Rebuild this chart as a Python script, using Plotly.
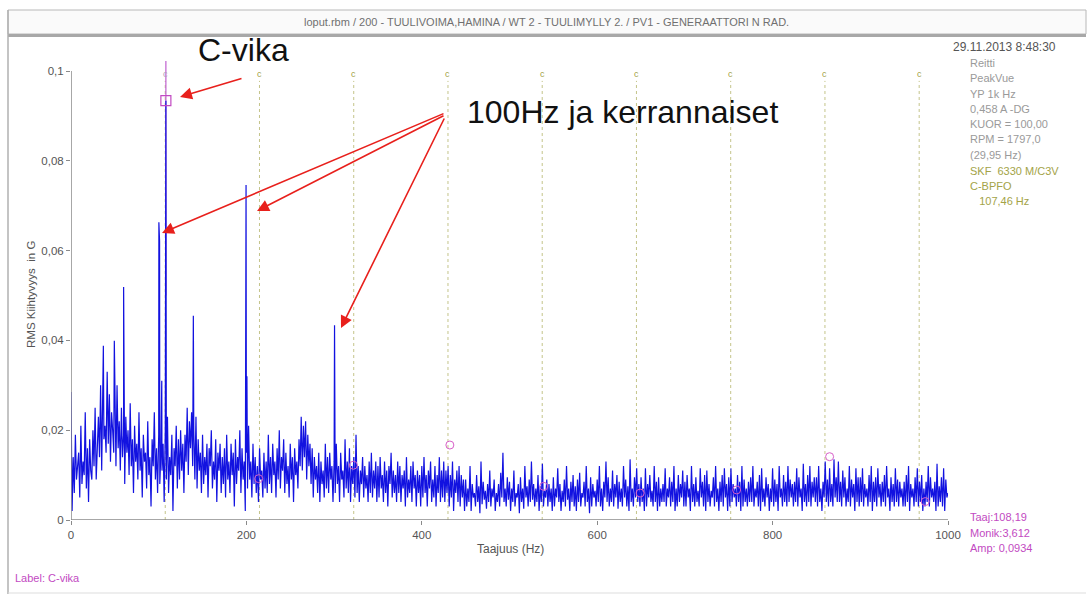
import numpy as np
import plotly.graph_objects as go

# ---------------------------------------------------------------------------
# Spectrum data (PeakVue, RMS acceleration in G)
# ---------------------------------------------------------------------------
FREQ_STEP = 1.25  # Hz between spectrum lines
# Noise floor amplitudes in units of 1e-4 G, 20 lines per 25 Hz block
noise_e4 = [
    285, 20, 140, 60, 190, 90, 120, 150, 50, 210, 80, 130, 100, 240, 70, 160, 40, 180, 110, 90,       # 0
    200, 120, 250, 90, 160, 230, 140, 300, 110, 260, 180, 210, 150, 330, 170, 280, 130, 240, 200, 150,  # 25
    270, 120, 300, 160, 220, 110, 250, 140, 190, 80, 230, 150, 200, 100, 260, 120, 180, 60, 210, 130,   # 50
    170, 90, 240, 110, 160, 50, 190, 130, 150, 70, 220, 100, 140, 30, 180, 120, 240, 90, 160, 60,       # 75
    190, 80, 150, 110, 170, 40, 200, 90, 230, 60, 140, 100, 190, 20, 160, 120, 210, 70, 180, 90,        # 100
    200, 110, 170, 60, 190, 130, 250, 100, 220, 160, 240, 120, 200, 90, 230, 70, 180, 110, 150, 60,     # 125
    190, 80, 140, 100, 170, 50, 160, 120, 200, 70, 130, 90, 180, 40, 150, 110, 170, 60, 140, 80,        # 150
    160, 50, 190, 90, 130, 60, 170, 100, 150, 30, 180, 80, 140, 110, 200, 60, 160, 90, 130, 20,         # 175
    150, 70, 210, 90, 130, 50, 170, 80, 140, 60, 120, 40, 160, 90, 110, 50, 150, 70, 130, 60,           # 200
    190, 80, 140, 60, 170, 100, 130, 50, 160, 90, 200, 70, 140, 110, 180, 60, 150, 80, 120, 50,         # 225
    170, 90, 140, 40, 160, 100, 130, 70, 180, 120, 230, 110, 210, 140, 220, 90, 190, 120, 170, 80,      # 250
    160, 50, 140, 90, 120, 60, 150, 40, 130, 80, 110, 50, 170, 70, 140, 60, 150, 90, 120, 40,           # 275
    130, 60, 170, 80, 120, 40, 150, 90, 110, 50, 180, 70, 130, 60, 160, 40, 120, 80, 140, 50,           # 300
    190, 60, 120, 40, 110, 80, 140, 50, 120, 70, 100, 40, 130, 60, 150, 50, 110, 70, 130, 40,           # 325
    120, 50, 140, 70, 100, 40, 130, 60, 110, 30, 120, 80, 150, 50, 110, 60, 100, 40, 130, 60,           # 350
    120, 40, 100, 70, 110, 30, 140, 50, 90, 60, 120, 40, 130, 70, 100, 30, 110, 60, 100, 30,            # 375
    120, 50, 140, 60, 100, 30, 110, 70, 130, 40, 90, 50, 120, 30, 100, 60, 140, 40, 110, 50,            # 400
    130, 40, 110, 60, 120, 30, 100, 50, 130, 20, 90, 60, 110, 40, 120, 30, 100, 50, 90, 20,             # 425
    90, 30, 70, 40, 120, 20, 80, 50, 60, 30, 100, 40, 75, 15, 130, 35, 85, 45, 65, 25,                  # 450
    80, 40, 110, 30, 70, 50, 90, 20, 60, 40, 80, 30, 105, 50, 150, 40, 70, 30, 95, 45,                  # 475
    85, 20, 70, 40, 110, 30, 60, 50, 80, 15, 95, 40, 70, 25, 120, 50, 75, 30, 90, 40,                   # 500
    130, 45, 80, 30, 70, 40, 100, 20, 75, 40, 125, 30, 65, 50, 90, 30, 80, 40, 70, 20,                  # 525
    95, 30, 70, 50, 115, 40, 80, 20, 65, 40, 90, 30, 120, 45, 70, 20, 85, 40, 100, 30,                  # 550
    75, 20, 90, 40, 105, 30, 60, 50, 85, 30, 120, 40, 70, 15, 95, 30, 80, 50, 65, 30,                   # 575
    90, 40, 120, 30, 70, 20, 85, 50, 130, 40, 95, 30, 70, 40, 110, 30, 80, 50, 100, 25,                 # 600
    85, 40, 70, 30, 120, 50, 90, 30, 75, 20, 135, 40, 70, 30, 95, 50, 115, 40, 80, 30,                  # 625
    95, 40, 70, 20, 115, 30, 80, 50, 100, 40, 65, 30, 120, 40, 85, 20, 95, 30, 70, 40,                  # 650
    80, 40, 115, 30, 70, 50, 95, 30, 85, 40, 120, 20, 70, 30, 100, 40, 80, 50, 110, 30,                 # 675
    85, 30, 100, 50, 70, 20, 120, 40, 80, 30, 95, 40, 65, 30, 115, 50, 85, 30, 100, 20,                 # 700
    110, 40, 80, 30, 65, 50, 95, 30, 120, 40, 70, 20, 85, 40, 100, 30, 115, 50, 80, 20,                 # 725
    95, 30, 115, 40, 80, 50, 70, 30, 100, 40, 85, 20, 120, 30, 90, 40, 70, 30, 85, 40,                  # 750
    95, 40, 120, 30, 70, 50, 85, 30, 100, 20, 115, 40, 70, 30, 95, 50, 80, 20, 70, 40,                  # 775
    115, 30, 90, 40, 80, 20, 120, 50, 70, 30, 100, 40, 85, 30, 120, 40, 90, 50, 80, 30,                 # 800
    85, 40, 115, 30, 95, 50, 70, 20, 125, 40, 80, 30, 100, 40, 120, 30, 85, 50, 95, 40,                 # 825
    95, 30, 120, 40, 70, 20, 85, 50, 130, 40, 90, 30, 115, 40, 80, 30, 135, 50, 95, 40,                 # 850
    130, 40, 85, 30, 110, 50, 95, 30, 70, 40, 120, 30, 90, 50, 80, 20, 115, 40, 95, 30,                 # 875
    95, 40, 115, 30, 80, 50, 70, 30, 100, 40, 120, 20, 85, 40, 95, 30, 115, 50, 80, 30,                 # 900
    85, 40, 100, 30, 120, 50, 70, 20, 95, 40, 80, 30, 115, 40, 90, 30, 85, 50, 70, 30,                  # 925
    85, 30, 100, 40, 120, 20, 80, 50, 70, 30, 95, 40, 115, 30, 85, 40, 100, 20, 70, 30,                 # 950
    85, 40, 120, 30, 95, 50, 70, 40, 85, 20, 125, 30, 75, 40, 95, 30, 115, 20, 90, 50,                  # 975
    60,
]

# Discrete peaks (Hz, 1e-4 G)
peak_freq = [36.9, 49.4, 60.0, 100.2, 101.0, 103.5, 139.5, 199.6, 200.6, 300.5]
peak_amp_e4 = [388, 399, 519, 663, 620, 310, 455, 746, 320, 434]

# Cursor reading
cursor_freq = 108.19
cursor_amp = 0.0934

# Bearing fault frequency (SKF 6330 M/C3V, outer race) and its harmonic orders
bpfo = 107.46
bpfo_orders = [1, 2, 3, 4, 5, 6, 7, 8, 9]
# Harmonic cursor markers found on the spectrum
harm_freq = [214.0, 322.0, 432.0, 539.0, 649.0, 759.0, 865.0, 974.0]
harm_amp = [0.0092, 0.0122, 0.0167, 0.0075, 0.0060, 0.0067, 0.0141, 0.0041]

x_ticks = [0, 200, 400, 600, 800, 1000]
y_ticks = [0, 0.02, 0.04, 0.06, 0.08, 0.1]
y_tick_text = ["0", "0,02", "0,04", "0,06", "0,08", "0,1"]

info_lines = ["Reitti", "PeakVue", "YP 1k Hz", "0,458 A -DG", "KUOR = 100,00",
              "RPM = 1797,0", "(29,95 Hz)"]
bearing_lines = ["SKF  6330 M/C3V", "C-BPFO", "   107,46 Hz"]
cursor_lines = ["Taaj:108,19", "Monik:3,612", "Amp: 0,0934"]

# ---------------------------------------------------------------------------
# Build spectrum
# ---------------------------------------------------------------------------
grid_f = np.arange(len(noise_e4)) * FREQ_STEP
all_f = np.concatenate([grid_f, peak_freq, [cursor_freq]])
all_a = np.concatenate([np.array(noise_e4) * 1e-4, np.array(peak_amp_e4) * 1e-4, [cursor_amp]])
order = np.argsort(all_f, kind="stable")
spec_f, spec_a = all_f[order], all_a[order]

# ---------------------------------------------------------------------------
# Page geometry (pixels) and helpers to paper coordinates
# ---------------------------------------------------------------------------
W, H = 1088, 595
PL, PT, PW, PH = 71, 60, 877, 460
Y_TOP = 0.10245


def px(x):
    return (x - PL) / PW


def py(y):
    return (PT + PH - y) / PH


FONT = "Arial, Liberation Sans, sans-serif"
GRAY = "#707070"
OLIVE = "#a3a347"
MAGENTA = "#c24ac2"
RED = "#e8201c"

fig = go.Figure()

fig.add_trace(go.Scatter(
    x=spec_f, y=spec_a, mode="lines",
    line=dict(color="#1212e0", width=1.2),
    hoverinfo="skip", showlegend=False,
))

fig.add_trace(go.Scatter(
    x=[cursor_freq], y=[cursor_amp], mode="markers",
    marker=dict(symbol="square-open", size=10, color=MAGENTA, line=dict(width=1.2)),
    showlegend=False, hoverinfo="skip",
))

fig.add_trace(go.Scatter(
    x=harm_freq, y=harm_amp, mode="markers",
    marker=dict(symbol="circle-open", size=8, color="#d860c8", line=dict(width=1)),
    showlegend=False, hoverinfo="skip",
))

shapes = []
# Title bar and page frame
shapes.append(dict(type="rect", xref="paper", yref="paper",
                   x0=px(8), x1=px(1086), y0=py(10), y1=py(34),
                   fillcolor="#fafafa", line=dict(color="#b8b8b8", width=1), layer="below"))
shapes.append(dict(type="line", xref="paper", yref="paper",
                   x0=px(8), x1=px(1086), y0=py(35.5), y1=py(35.5),
                   line=dict(color="#a8a8a8", width=3)))
shapes.append(dict(type="line", xref="paper", yref="paper",
                   x0=px(8), x1=px(8), y0=py(10), y1=py(594),
                   line=dict(color="#b0b0b0", width=1.5)))
shapes.append(dict(type="line", xref="paper", yref="paper",
                   x0=px(8), x1=px(1086), y0=py(593), y1=py(593),
                   line=dict(color="#dddddd", width=1)))

# Bearing fault harmonic lines
for k in bpfo_orders:
    shapes.append(dict(type="line", xref="x", yref="y",
                       x0=bpfo * k, x1=bpfo * k, y0=0, y1=0.0978,
                       line=dict(color="#c4c48a", width=1, dash="dot"), layer="below"))

# Cursor line
shapes.append(dict(type="line", xref="x", yref="y",
                   x0=cursor_freq, x1=cursor_freq, y0=0.05, y1=0.1022,
                   line=dict(color="#c060d0", width=1.2), layer="below"))

# Axis lines
shapes.append(dict(type="line", xref="x", yref="y", x0=0, x1=0, y0=0, y1=0.1,
                   line=dict(color="#8a8a8a", width=1.5)))
shapes.append(dict(type="line", xref="x", yref="y", x0=0, x1=1000, y0=0, y1=0,
                   line=dict(color="#8a8a8a", width=1.5)))

ann = []
ann.append(dict(x=px(546), y=py(22), xref="paper", yref="paper", showarrow=False,
                text="loput.rbm / 200 - TUULIVOIMA,HAMINA / WT 2 - TUULIMYLLY 2. / PV1 - GENERAATTORI N RAD.",
                font=dict(family=FONT, size=11, color=GRAY), xanchor="center", yanchor="middle"))

for k in bpfo_orders:
    ann.append(dict(x=bpfo * k, y=0.0993, xref="x", yref="y", showarrow=False, text="c",
                    font=dict(family=FONT, size=9, color="#b0a0b8" if k == 1 else OLIVE),
                    xanchor="center", yanchor="middle"))

ann.append(dict(x=px(1058), y=py(47), xref="paper", yref="paper", showarrow=False,
                text="29.11.2013 8:48:30", font=dict(family=FONT, size=12, color="#555555"),
                xanchor="right", yanchor="middle"))
for i, t in enumerate(info_lines):
    ann.append(dict(x=px(968), y=py(63 + 15.3 * i), xref="paper", yref="paper", showarrow=False,
                    text=t, font=dict(family=FONT, size=11, color="#9a9a9a"),
                    xanchor="left", yanchor="middle"))
for i, t in enumerate(bearing_lines):
    ann.append(dict(x=px(968), y=py(171 + 15 * i), xref="paper", yref="paper", showarrow=False,
                    text=t.replace(" ", "&nbsp;"), font=dict(family=FONT, size=11, color=OLIVE),
                    xanchor="left", yanchor="middle"))
for i, t in enumerate(cursor_lines):
    ann.append(dict(x=px(968), y=py(517 + 15.5 * i), xref="paper", yref="paper", showarrow=False,
                    text=t, font=dict(family=FONT, size=11, color=MAGENTA),
                    xanchor="left", yanchor="middle"))

ann.append(dict(x=px(13), y=py(578), xref="paper", yref="paper", showarrow=False,
                text="Label: C-vika", font=dict(family=FONT, size=11, color=MAGENTA),
                xanchor="left", yanchor="middle"))

# Axis titles
ann.append(dict(x=px(510), y=py(549), xref="paper", yref="paper", showarrow=False,
                text="Taajuus (Hz)", font=dict(family=FONT, size=12, color="#555555"),
                xanchor="center", yanchor="middle"))
ann.append(dict(x=px(31), y=py(295), xref="paper", yref="paper", showarrow=False,
                text="RMS Kiihtyvyys&nbsp;&nbsp;in G", textangle=-90,
                font=dict(family=FONT, size=11.5, color="#555555"),
                xanchor="center", yanchor="middle"))

# Callout texts
ann.append(dict(x=px(243), y=py(50), xref="paper", yref="paper", showarrow=False,
                text="C-vika", font=dict(family=FONT, size=32, color="#111111"),
                xanchor="center", yanchor="middle"))
ann.append(dict(x=px(622), y=py(112), xref="paper", yref="paper", showarrow=False,
                text="100Hz ja kerrannaiset", font=dict(family=FONT, size=32, color="#111111"),
                xanchor="center", yanchor="middle"))


def arrow(tail, tip):
    # tip in paper coordinates, tail given as pixel offset from the tip
    return dict(x=px(tip[0]), y=py(tip[1]), xref="paper", yref="paper",
                ax=tail[0] - tip[0], ay=tail[1] - tip[1], axref="pixel", ayref="pixel",
                text="", showarrow=True, arrowhead=2, arrowsize=1.5, arrowwidth=1.6,
                arrowcolor=RED, standoff=0, startstandoff=0)


ann.append(arrow((243, 78), (180, 97)))
ann.append(arrow((445, 113), (162, 233)))
ann.append(arrow((445, 115), (257, 211)))
ann.append(arrow((445, 117), (341, 328)))

fig.update_layout(
    width=W, height=H,
    margin=dict(l=PL, r=W - PL - PW, t=PT, b=H - PT - PH, pad=0),
    paper_bgcolor="white", plot_bgcolor="white",
    font=dict(family=FONT, color="#555555"),
    xaxis=dict(range=[0, 1000], showgrid=False, zeroline=False, showline=False,
               tickvals=x_ticks, ticks="outside", ticklen=4, tickcolor="#8a8a8a",
               tickfont=dict(family=FONT, size=11.5, color="#555555")),
    yaxis=dict(range=[0, Y_TOP], showgrid=False, zeroline=False, showline=False,
               tickvals=y_ticks, ticktext=y_tick_text, ticks="outside", ticklen=4,
               tickcolor="#8a8a8a", tickfont=dict(family=FONT, size=11.5, color="#555555")),
    shapes=shapes, annotations=ann, showlegend=False,
)

fig.write_html("out.html")
